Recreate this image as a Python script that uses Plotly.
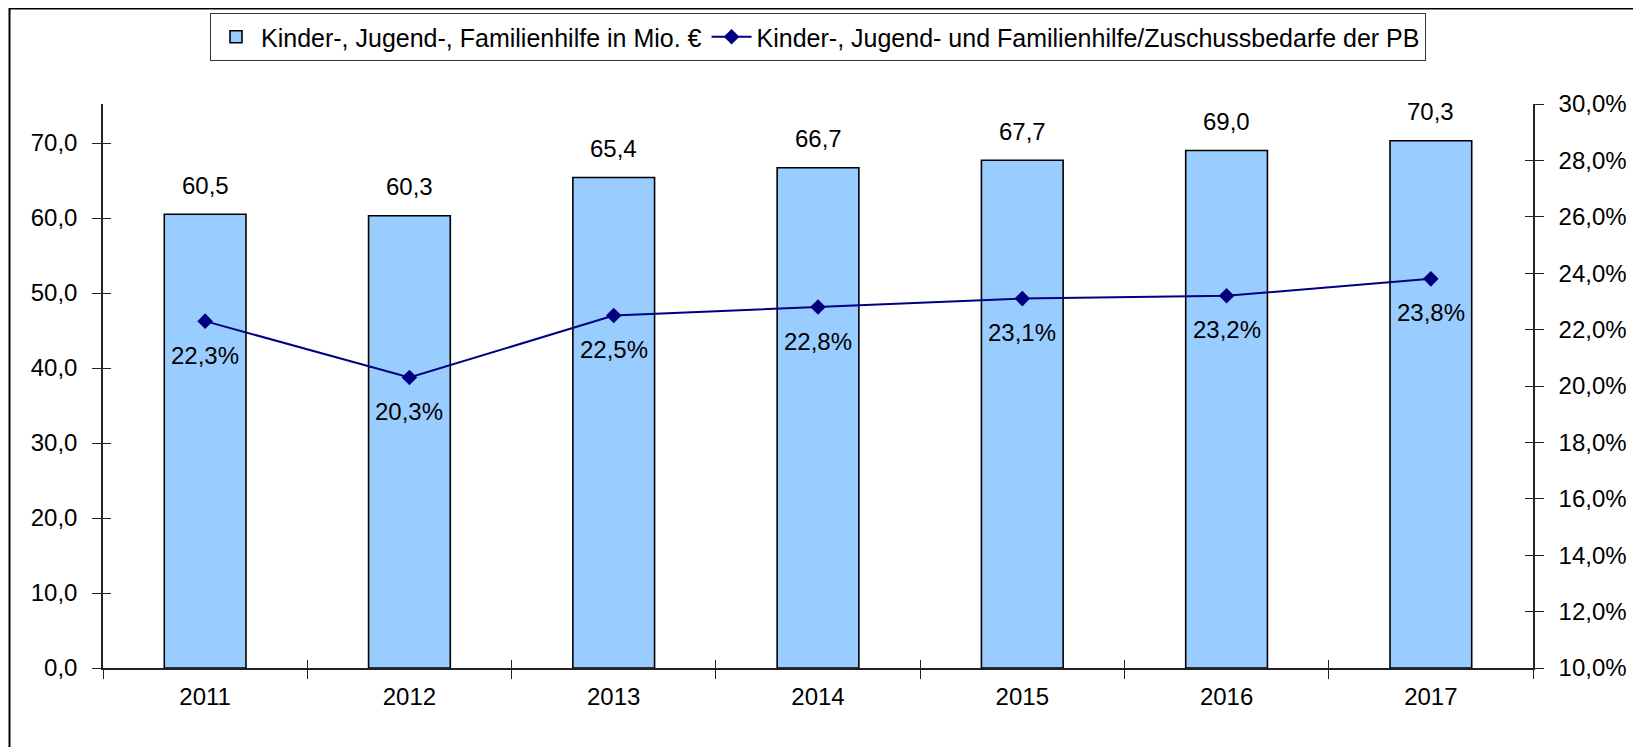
import plotly.graph_objects as go

years = ["2011", "2012", "2013", "2014", "2015", "2016", "2017"]
mio_eur = [60.5, 60.3, 65.4, 66.7, 67.7, 69.0, 70.3]
share_pct = [22.3, 20.3, 22.5, 22.8, 23.1, 23.2, 23.8]
bar_name = "Kinder-, Jugend-, Familienhilfe in Mio. €"
line_name = "Kinder-, Jugend- und Familienhilfe/Zuschussbedarfe der PB"
left_ticks = [0, 10, 20, 30, 40, 50, 60, 70]
right_ticks = [10, 12, 14, 16, 18, 20, 22, 24, 26, 28, 30]

FONT = "Liberation Sans, Arial, sans-serif"
FS = 24
AX = "#222222"


def de(v, suffix=""):
    return f"{v:.1f}".replace(".", ",") + suffix


fig = go.Figure()
fig.add_trace(go.Bar(
    x=years, y=mio_eur, name=bar_name,
    marker=dict(color="#99CCFF", line=dict(color="#000000", width=1.6)),
    hoverinfo="skip", yaxis="y", xaxis="x",
))
fig.add_trace(go.Scatter(
    x=years, y=share_pct, name=line_name, mode="lines+markers",
    line=dict(color="#000080", width=2),
    marker=dict(symbol="diamond", size=12, color="#000080"),
    yaxis="y2", xaxis="x", hoverinfo="skip",
))
# invisible helper traces for crossing tick marks (inside half)
fig.add_trace(go.Scatter(x=years, y=mio_eur, mode="none", xaxis="x2", yaxis="y3",
                         showlegend=False, hoverinfo="skip"))
fig.add_trace(go.Scatter(x=years, y=share_pct, mode="none", xaxis="x2", yaxis="y4",
                         showlegend=False, hoverinfo="skip"))

ann = []
for i, v in enumerate(mio_eur):
    ann.append(dict(x=i, y=v, xref="x", yref="y", text=de(v),
                    showarrow=False, yanchor="middle", yshift=29,
                    font=dict(family=FONT, size=FS, color="#000000")))
for i, v in enumerate(share_pct):
    ann.append(dict(x=i, y=v, xref="x", yref="y2", text=de(v, "%"),
                    showarrow=False, yanchor="middle", yshift=-34,
                    font=dict(family=FONT, size=FS, color="#000000")))

# page has an 8px body margin; figure placed at (8, 8)
OFF = 8
W, H = 1641 - OFF, 747 - OFF
L, R, T, B = 103 - OFF, 108, 104 - OFF, 79
pw = W - L - R
ph = H - T - B
xr = [-0.5, len(years) - 0.5]

fig.update_layout(
    width=W, height=H,
    margin=dict(l=L, r=R, t=T, b=B, autoexpand=False),
    paper_bgcolor="white", plot_bgcolor="white",
    separators=",.",
    font=dict(family=FONT, size=FS, color="#000000"),
    bargap=0.6,
    showlegend=True,
    legend=dict(orientation="h", x=0.5, xanchor="center",
                y=(ph + (104 - 13)) / ph, yanchor="top",
                bordercolor="#333333", borderwidth=1, bgcolor="white",
                font=dict(family=FONT, size=25, color="#000000"),
                itemwidth=40, tracegroupgap=0),
    xaxis=dict(type="category", categoryorder="array", categoryarray=years, range=xr,
               showline=True, linecolor=AX, linewidth=1.5,
               ticks="outside", ticklen=9, tickcolor=AX, tickwidth=1,
               tickson="boundaries", showgrid=False, zeroline=False, tickangle=0,
               tickfont=dict(family=FONT, size=FS), ticklabelstandoff=6),
    xaxis2=dict(type="category", categoryorder="array", categoryarray=years, range=xr,
                overlaying="x", showline=False, tickangle=0,
                ticks="inside", ticklen=8, tickcolor=AX, tickwidth=1,
                tickson="boundaries", showticklabels=False, showgrid=False,
                side="bottom", anchor="y3"),
    yaxis=dict(range=[0, 75.2], tickvals=left_ticks, ticktext=[de(v) for v in left_ticks],
               showline=True, linecolor=AX, linewidth=1.5,
               ticks="outside", ticklen=9, tickcolor=AX, tickwidth=1,
               showgrid=False, zeroline=False, tickfont=dict(family=FONT, size=FS),
               ticklabelstandoff=10),
    yaxis3=dict(range=[0, 75.2], tickvals=left_ticks, overlaying="y", side="left",
                showline=False, ticks="inside", ticklen=8, tickcolor=AX, tickwidth=1,
                showticklabels=False, showgrid=False, zeroline=False, anchor="x2"),
    yaxis2=dict(range=[10, 30], tickvals=right_ticks,
                ticktext=[de(v, "%") for v in right_ticks],
                overlaying="y", side="right", anchor="x",
                showline=True, linecolor=AX, linewidth=1.5,
                ticks="outside", ticklen=9, tickcolor=AX, tickwidth=1,
                showgrid=False, zeroline=False, tickfont=dict(family=FONT, size=FS),
                ticklabelstandoff=10),
    yaxis4=dict(range=[10, 30], tickvals=right_ticks, overlaying="y", side="right",
                anchor="x2", showline=False, ticks="inside", ticklen=8, tickcolor=AX,
                tickwidth=1, showticklabels=False, showgrid=False, zeroline=False),
    annotations=ann,
    shapes=[dict(type="rect", xref="paper", yref="paper",
                 x0=(1.5 - L) / pw, x1=(W + 20 - L) / pw,
                 y0=(-(B + 20)) / ph, y1=(ph + T - 0.5) / ph,
                 line=dict(color="#000000", width=2), fillcolor="rgba(0,0,0,0)",
                 layer="below")],
    hovermode=False,
)

fig.write_html("out.html")
